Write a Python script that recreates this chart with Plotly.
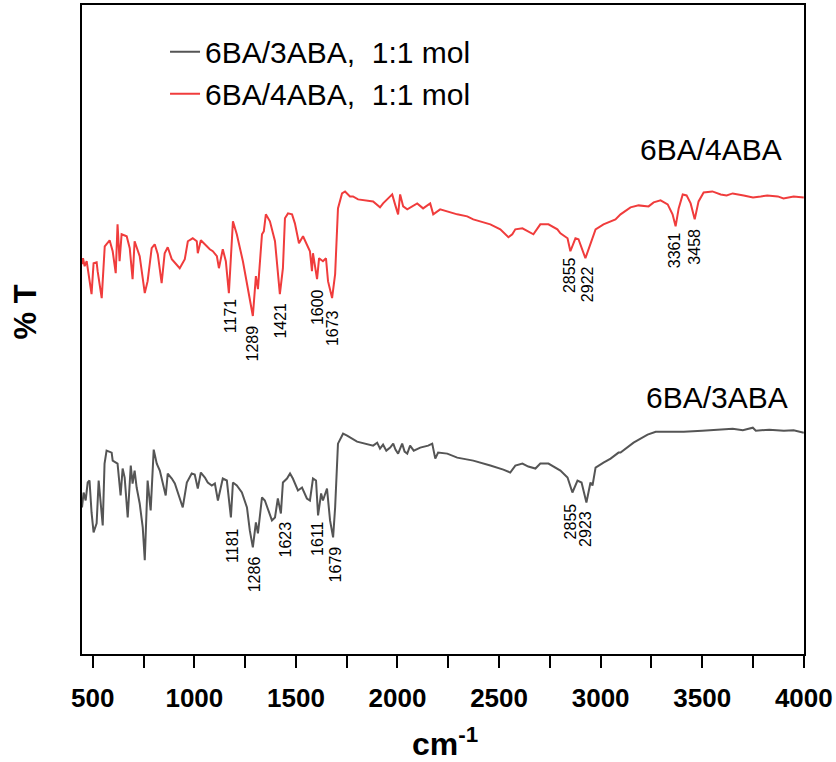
import plotly.graph_objects as go

# FTIR spectra (wavenumber in cm-1, %T in arbitrary units)
wn_3aba = [447, 455, 465, 475, 484, 494, 504, 519, 529, 539, 549, 558, 568, 593, 598,
           622, 637, 647, 657, 672, 687, 696, 706, 716, 731, 746, 756, 770, 785, 800,
           815, 830, 844, 859, 869, 889, 904, 928, 943, 963, 987, 1002, 1017, 1032,
           1052, 1066, 1086, 1101, 1116, 1140, 1160, 1180, 1190, 1209, 1234, 1259,
           1273, 1288, 1303, 1313, 1333, 1347, 1382, 1397, 1411, 1426, 1436, 1456,
           1471, 1485, 1510, 1530, 1554, 1569, 1584, 1599, 1609, 1624, 1633, 1653,
           1668, 1683, 1693, 1707, 1732, 1752, 1801, 1880, 1900, 1914, 1929, 1945,
           1964, 1979, 1990, 2003, 2023, 2035, 2048, 2062, 2080, 2112, 2151, 2171,
           2186, 2200, 2245, 2294, 2373, 2457, 2521, 2555, 2580, 2615, 2644, 2679,
           2703, 2743, 2802, 2837, 2861, 2886, 2906, 2930, 2950, 2960, 2975, 3014,
           3049, 3088, 3098, 3162, 3231, 3271, 3409, 3500, 3576, 3650, 3700, 3749,
           3764, 3830, 3902, 3950, 4000]
t_3aba = [29.4, 32.4, 30.8, 34.4, 34.8, 28.4, 24.4, 26.2, 34.8, 29.4, 25.8, 38.2, 40.8,
          40.4, 38.8, 38.2, 31.8, 37.2, 35.4, 27.4, 37.8, 34.2, 36.8, 33.4, 30.2, 25.4,
          18.8, 34.8, 28.8, 41.0, 38.2, 36.8, 34.4, 31.8, 36.2, 35.2, 34.2, 31.4, 29.4,
          34.4, 36.2, 36.0, 33.2, 36.4, 35.4, 34.4, 33.8, 34.2, 30.8, 35.2, 34.8, 27.4,
          34.4, 33.8, 32.4, 29.4, 24.8, 21.4, 26.4, 24.2, 31.4, 30.8, 26.8, 27.4, 31.2,
          28.2, 34.4, 35.2, 36.2, 35.2, 32.8, 33.4, 31.2, 30.8, 35.2, 34.8, 27.8, 32.2,
          30.8, 33.2, 26.8, 23.4, 29.4, 42.2, 44.2, 43.8, 42.6, 41.8, 42.4, 41.2, 42.0,
          40.8, 41.4, 42.2, 41.0, 40.2, 42.2, 40.6, 40.2, 41.8, 40.8, 41.4, 41.8, 42.2,
          39.2, 40.4, 40.2, 39.4, 38.8, 37.8, 37.0, 36.4, 37.8, 38.2, 37.6, 37.2, 38.2,
          38.2, 36.8, 35.4, 32.4, 34.8, 34.4, 30.4, 34.4, 33.8, 37.4, 38.4, 39.2, 40.4,
          40.4, 42.4, 44.0, 44.6, 44.6, 44.8, 45.0, 45.2, 44.9, 45.4, 44.8, 45.0, 44.8,
          44.9, 44.4]

wn_4aba = [447, 452, 460, 470, 494, 504, 519, 524, 544, 559, 583, 598, 613, 622, 632,
           642, 667, 682, 696, 706, 731, 756, 770, 790, 805, 820, 839, 854, 869, 889,
           928, 953, 968, 992, 1012, 1017, 1032, 1076, 1091, 1111, 1121, 1140, 1155,
           1170, 1190, 1209, 1239, 1264, 1288, 1303, 1313, 1333, 1342, 1352, 1372,
           1397, 1421, 1436, 1446, 1461, 1481, 1495, 1515, 1535, 1554, 1569, 1579,
           1584, 1604, 1614, 1633, 1648, 1658, 1678, 1693, 1707, 1727, 1742, 1766,
           1781, 1806, 1880, 1914, 1929, 1964, 1974, 1988, 2003, 2013, 2028, 2048,
           2097, 2126, 2161, 2176, 2196, 2210, 2294, 2343, 2373, 2457, 2506, 2546,
           2565, 2580, 2615, 2639, 2669, 2703, 2743, 2787, 2802, 2837, 2851, 2876,
           2891, 2925, 2950, 2960, 2975, 3014, 3073, 3098, 3147, 3187, 3236, 3261,
           3295, 3330, 3354, 3369, 3384, 3404, 3423, 3443, 3463, 3482, 3507, 3550,
           3591, 3620, 3650, 3704, 3750, 3788, 3820, 3872, 3900, 3950, 4000]
t_4aba = [78.2, 79.4, 77.8, 78.8, 72.2, 78.4, 78.6, 76.8, 71.4, 81.8, 83.0, 80.8, 76.4,
          86.2, 78.8, 84.2, 83.8, 81.4, 75.2, 82.8, 79.8, 72.4, 74.8, 81.4, 82.2, 80.2,
          74.4, 80.4, 81.6, 79.2, 77.4, 79.2, 82.8, 83.4, 82.8, 80.4, 83.0, 81.2, 80.8,
          79.8, 77.4, 81.2, 78.8, 72.4, 86.8, 84.2, 78.8, 73.4, 67.8, 75.8, 73.2, 84.2,
          84.8, 88.2, 86.8, 82.8, 72.2, 77.4, 87.4, 88.4, 88.2, 86.4, 82.4, 83.8, 82.2,
          80.8, 76.8, 80.4, 75.2, 79.4, 78.8, 79.4, 74.8, 71.4, 76.2, 89.4, 92.4, 92.8,
          91.8, 91.8, 91.2, 90.8, 89.6, 90.4, 91.8, 92.2, 90.2, 88.2, 92.2, 89.8, 89.2,
          90.4, 89.4, 90.4, 88.2, 88.8, 89.2, 88.2, 87.8, 87.2, 86.2, 85.2, 83.6, 84.2,
          85.2, 85.4, 84.8, 84.2, 86.2, 86.2, 85.2, 84.4, 83.4, 80.8, 83.4, 83.2, 79.4,
          82.4, 83.2, 85.2, 86.2, 87.2, 88.2, 89.6, 90.0, 89.8, 90.6, 91.0, 90.2, 88.2,
          85.8, 89.4, 92.2, 92.0, 90.4, 87.2, 90.8, 92.6, 92.8, 92.2, 92.0, 92.4, 92.0,
          91.6, 91.8, 92.0, 91.8, 91.4, 91.8, 91.6]

# peak labels (text, position of the label centre)
peaks_4aba = ["1171", "1289", "1421", "1600", "1673", "2855", "2922", "3361", "3458"]
peaks_4aba_x = [1176, 1284, 1422, 1604, 1678, 2844, 2933, 3361, 3464]
peaks_4aba_y = [67.8, 62.3, 66.9, 69.6, 65.4, 76.0, 74.2, 81.0, 81.7]

peaks_3aba = ["1181", "1286", "1623", "1611", "1679", "2855", "2923"]
peaks_3aba_x = [1191, 1294, 1447, 1609, 1693, 2849, 2928]
peaks_3aba_y = [21.7, 16.0, 23.0, 23.1, 18.0, 26.6, 25.1]

FONT = "Liberation Sans, Arial, sans-serif"

fig = go.Figure()
fig.add_scatter(x=wn_3aba, y=t_3aba, mode="lines", name="6BA/3ABA,\u00a0 1:1 mol",
                line=dict(color="#555555", width=2))
fig.add_scatter(x=wn_4aba, y=t_4aba, mode="lines", name="6BA/4ABA,\u00a0 1:1 mol",
                line=dict(color="#f03c3c", width=2))

annotations = []
for txt, x, y in zip(peaks_4aba + peaks_3aba, peaks_4aba_x + peaks_3aba_x,
                     peaks_4aba_y + peaks_3aba_y):
    annotations.append(dict(x=x, y=y, text=txt, textangle=-90, showarrow=False,
                            xanchor="center", yanchor="middle",
                            font=dict(family=FONT, size=16, color="black")))

annotations += [
    dict(x=3543, y=101.2, text="6BA/4ABA", showarrow=False,
         xanchor="center", yanchor="middle",
         font=dict(family=FONT, size=30, color="black")),
    dict(x=3572, y=51.4, text="6BA/3ABA", showarrow=False,
         xanchor="center", yanchor="middle",
         font=dict(family=FONT, size=30, color="black")),
    dict(x=-0.077, y=0.527, xref="paper", yref="paper", text="% T", textangle=-90,
         xanchor="center", yanchor="middle", showarrow=False,
         font=dict(family=FONT, size=31, color="black", weight="bold")),
    dict(x=0.503, y=-0.135, xref="paper", yref="paper", text="cm<sup>-1</sup>",
         xanchor="center", yanchor="middle", showarrow=False,
         font=dict(family=FONT, size=32, color="black", weight="bold")),
]

fig.update_layout(
    width=836,
    height=762,
    margin=dict(l=82, r=31, t=3, b=108),
    plot_bgcolor="white",
    paper_bgcolor="white",
    annotations=annotations,
    legend=dict(x=0.115, y=0.968, xanchor="left", yanchor="top",
                font=dict(family=FONT, size=30, color="black"),
                bgcolor="rgba(0,0,0,0)", tracegroupgap=0),
)
fig.update_xaxes(
    range=[447, 4001], tick0=500, dtick=500, ticks="outside", ticklen=12, tickwidth=2,
    tickcolor="black", showline=True, linewidth=2, linecolor="black", mirror=True,
    showgrid=False, zeroline=False, ticklabelstandoff=8,
    tickfont=dict(family=FONT, size=26, color="black", weight="bold"),
    minor=dict(tick0=250, dtick=250, ticks="outside", ticklen=12, tickwidth=2,
               tickcolor="black", showgrid=False),
)
fig.update_yaxes(
    range=[0, 130.2], showticklabels=False, ticks="", showline=True, linewidth=2,
    linecolor="black", mirror=True, showgrid=False, zeroline=False,
)

# the page body has a default 8px margin; drop it so the figure sits at the corner
fig.write_html("out.html", config={"displayModeBar": False},
               post_script="document.body.style.margin = '0';")
